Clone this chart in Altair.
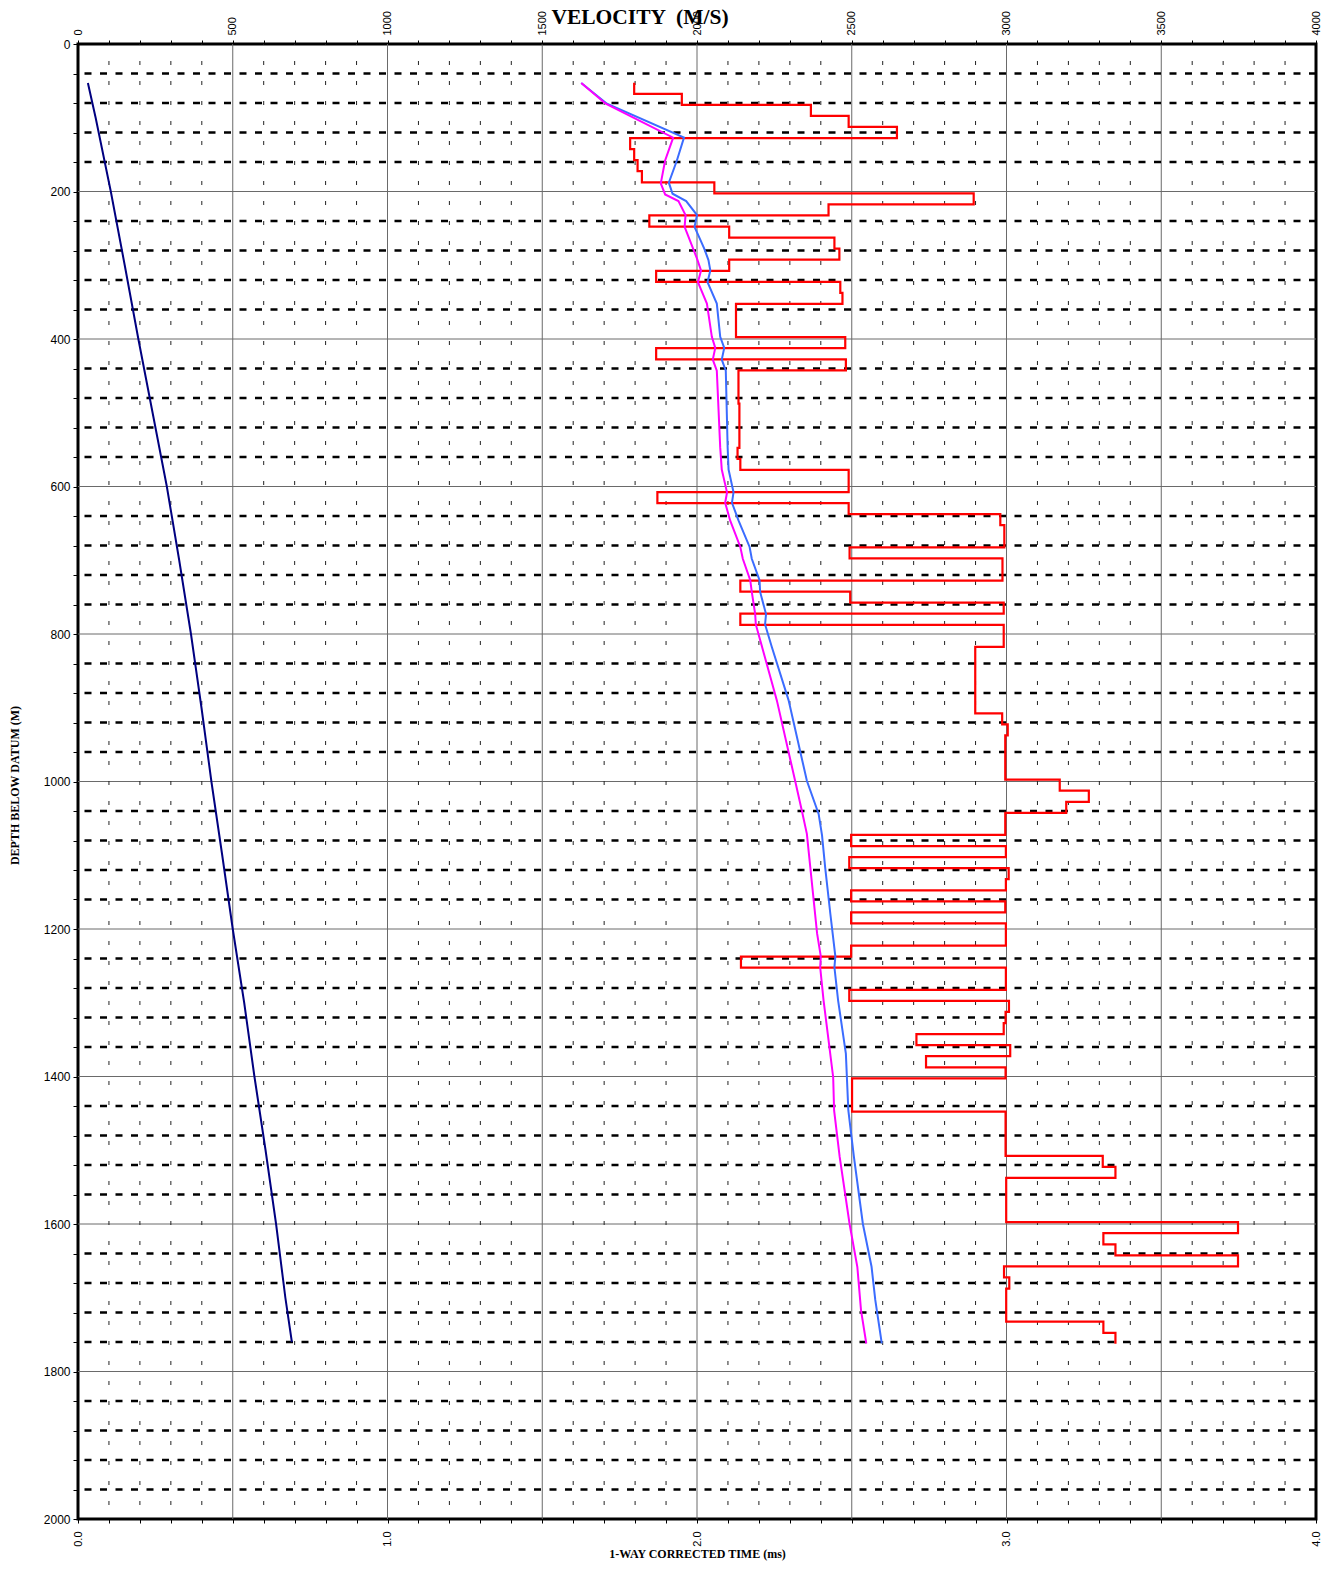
import altair as alt
import pandas as pd

# ---------------- axis / grid values ----------------
VEL_TICKS = list(range(0, 4001, 100))
TIME_TICKS = [round(i * 0.1, 1) for i in range(41)]
DEPTH_TICKS = list(range(0, 2001, 40))
VEL_MAJOR = [500, 1000, 1500, 2000, 2500, 3000, 3500]
DEPTH_MAJOR = [200, 400, 600, 800, 1000, 1200, 1400, 1600, 1800]
VEL_MINOR = [v for v in range(100, 4000, 100) if v % 500]
DEPTH_MINOR = [d for d in range(40, 2000, 40) if d % 200]

# ---------------- interval velocity (red, stepped) ----------------
RED_TOP = [52.5, 67.5, 82.5, 97.5, 112.5, 127.5, 142.5, 157.5, 172.5, 187.5,
           202.5, 217.5, 232.5, 247.5, 262.5, 277.5, 292.5, 307.5, 322.5, 337.5,
           352.5, 397.5, 412.5, 427.5, 442.5, 487.5, 547.5, 562.5, 577.5, 607.5,
           622.5, 637.5, 652.5, 682.5, 697.5, 727.5, 742.5, 757.5, 772.5, 787.5,
           817.5, 907.5, 922.5, 937.5, 997.5, 1012.5, 1027.5, 1042.5, 1072.5, 1087.5,
           1102.5, 1117.5, 1132.5, 1147.5, 1162.5, 1177.5, 1192.5, 1222.5, 1237.5, 1252.5,
           1282.5, 1297.5, 1312.5, 1327.5, 1342.5, 1357.5, 1372.5, 1387.5, 1402.5, 1447.5,
           1507.5, 1522.5, 1537.5, 1597.5, 1612.5, 1627.5, 1642.5, 1657.5, 1672.5, 1687.5,
           1732.5, 1747.5]
RED_END = 1762.5
RED_VEL = [1797, 1951, 2368, 2490, 2646, 1784, 1797, 1808, 1822, 2056,
           2894, 2425, 1846, 2104, 2444, 2460, 2104, 1868, 2463, 2470,
           2126, 2479, 1868, 2481, 2134, 2137, 2131, 2140, 2490, 1872,
           2490, 2980, 2993, 2493, 2987, 2140, 2495, 2991, 2140, 2991,
           2899, 2986, 3004, 2996, 3172, 3266, 3193, 2996, 2498, 2998,
           2492, 3007, 2998, 2498, 2996, 2498, 2998, 2498, 2142, 2998,
           2492, 3008, 2997, 2991, 2709, 3012, 2740, 2997, 2501, 2997,
           3311, 3352, 2999, 3748, 3313, 3352, 3748, 2992, 3009, 2999,
           3313, 3352]

# ---------------- RMS velocity (blue) ----------------
BLUE_D = [52.8, 81, 127, 158, 188, 203, 213, 232, 248, 263,
          277, 293, 307, 323, 352, 397, 412, 428, 443, 547,
          577, 608, 622, 646, 682, 698, 727, 743, 773, 787,
          818, 890, 999, 1044, 1073, 1116, 1180, 1237, 1252, 1297,
          1369, 1446, 1509, 1600, 1658, 1703, 1762]
BLUE_V = [1626, 1709, 1958, 1935, 1909, 1921, 1965, 2000, 1992, 2008,
          2023, 2037, 2043, 2034, 2064, 2075, 2088, 2080, 2093, 2099,
          2102, 2118, 2113, 2134, 2170, 2177, 2202, 2204, 2223, 2220,
          2242, 2296, 2355, 2393, 2404, 2414, 2431, 2447, 2444, 2456,
          2481, 2489, 2507, 2536, 2564, 2576, 2597]

# ---------------- average velocity (magenta) ----------------
MAG_D = [52.8, 81, 127, 158, 189, 204, 213, 232, 248, 291,
         307, 323, 352, 397, 412, 428, 443, 547, 577, 608,
         622, 646, 682, 698, 727, 743, 773, 787, 808, 890,
         999, 1040, 1071, 1116, 1206, 1237, 1252, 1297, 1401, 1446,
         1509, 1600, 1658, 1717, 1762]
MAG_V = [1626, 1705, 1923, 1897, 1883, 1897, 1940, 1963, 1960, 2000,
         2013, 2003, 2032, 2048, 2059, 2051, 2064, 2075, 2080, 2097,
         2091, 2107, 2140, 2148, 2172, 2177, 2188, 2190, 2204, 2258,
         2317, 2339, 2355, 2366, 2388, 2400, 2398, 2409, 2440, 2443,
         2461, 2493, 2518, 2530, 2547]

# ---------------- time-depth (navy) ----------------
NAVY_D = [53, 100, 200, 300, 400, 500, 600, 700, 800, 900,
          1000, 1100, 1200, 1300, 1400, 1500, 1600, 1700, 1760]
NAVY_T = [0.032, 0.057, 0.106, 0.151, 0.195, 0.241, 0.287, 0.327, 0.365, 0.399,
          0.431, 0.466, 0.500, 0.537, 0.570, 0.606, 0.640, 0.670, 0.691]

W, H = 1238, 1475

# ---------------- data frames ----------------
red_rows = []
for i, top in enumerate(RED_TOP):
    bot = RED_TOP[i + 1] if i + 1 < len(RED_TOP) else RED_END
    red_rows.append({"v": RED_VEL[i], "d": top})
    red_rows.append({"v": RED_VEL[i], "d": bot})
red_df = pd.DataFrame(red_rows)
red_df["i"] = range(len(red_df))

blue_df = pd.DataFrame({"v": BLUE_V, "d": BLUE_D})
blue_df["i"] = range(len(blue_df))
mag_df = pd.DataFrame({"v": MAG_V, "d": MAG_D})
mag_df["i"] = range(len(mag_df))
navy_df = pd.DataFrame({"t": NAVY_T, "d": NAVY_D})
navy_df["i"] = range(len(navy_df))

# ---------------- shared encodings ----------------
y_axis = alt.Axis(
    values=DEPTH_TICKS,
    labelExpr="datum.value % 200 == 0 ? datum.label : ''",
    format="d",
    labelFont="Liberation Sans", labelFontSize=12, labelColor="black",
    labelOverlap=False, labelFlush=False, labelPadding=3,
    tickSize=5, tickColor="black", tickWidth=1,
    domain=False, grid=False,
    title="DEPTH BELOW DATUM (M)",
    titleFont="Liberation Serif", titleFontSize=12, titleFontWeight="bold",
    titleColor="black", titleAngle=270, titleX=-64, titleY=741,
    titleAlign="center", titleBaseline="middle",
)
Y = alt.Y("d:Q", scale=alt.Scale(domain=[0, 2000], reverse=True, nice=False, zero=False),
          axis=y_axis)

x_axis = alt.Axis(
    orient="top", values=VEL_TICKS,
    labelExpr="datum.value % 500 == 0 ? datum.label : ''",
    format="d", labelAngle=270,
    labelFont="Liberation Sans", labelFontSize=11, labelColor="black",
    labelOverlap=False, labelFlush=False, labelPadding=5,
    tickSize=4, tickColor="black", tickWidth=1,
    domain=False, grid=False, title=None, zindex=1,
)
VSCALE = alt.Scale(domain=[0, 4000], nice=False, zero=False)
X = alt.X("v:Q", scale=VSCALE, axis=x_axis)

# ---------------- grid layers ----------------
vmaj = alt.Chart(pd.DataFrame({"v": VEL_MAJOR})).mark_rule(
    color="#6a6a6a", strokeWidth=1).encode(x=X)
dmaj = alt.Chart(pd.DataFrame({"d": DEPTH_MAJOR})).mark_rule(
    color="#6a6a6a", strokeWidth=1).encode(y=Y)
vmin = alt.Chart(pd.DataFrame({"v": VEL_MINOR})).mark_rule(
    color="#222222", strokeWidth=1, strokeDash=[4, 16], strokeDashOffset=3).encode(x=X)
dmin = alt.Chart(pd.DataFrame({"d": DEPTH_MINOR})).mark_rule(
    color="black", strokeWidth=2.6, strokeDash=[7, 8.5]).encode(y=Y)

red = alt.Chart(red_df).mark_line(color="#ff0000", strokeWidth=2.2).encode(
    x=X, y=Y, order="i:Q")
blue = alt.Chart(blue_df).mark_line(color="#3b6cff", strokeWidth=2).encode(
    x=X, y=Y, order="i:Q")
mag = alt.Chart(mag_df).mark_line(color="#ff00ff", strokeWidth=2).encode(
    x=X, y=Y, order="i:Q")

title = alt.Chart(pd.DataFrame({"s": ["VELOCITY \u00a0(M/S)"]})).mark_text(
    font="Liberation Serif", fontSize=21.5, fontWeight="bold", color="black",
    align="center", baseline="alphabetic").encode(
    text="s:N", x=alt.value(562), y=alt.value(-20))

vel = alt.layer(vmaj, dmaj, vmin, dmin, red, blue, mag, title)

t_axis = alt.Axis(
    orient="bottom", values=TIME_TICKS,
    labelExpr="datum.value == round(datum.value) ? format(datum.value, '.1f') : ''",
    labelAngle=270,
    labelFont="Liberation Sans", labelFontSize=11, labelColor="black",
    labelOverlap=False, labelFlush=False, labelPadding=8,
    tickSize=4, tickColor="black", tickWidth=1,
    domain=False, grid=False,
    title="1-WAY CORRECTED TIME (ms)",
    titleFont="Liberation Serif", titleFontSize=12, titleFontWeight="bold",
    titleColor="black", titleX=619, titleY=34, titleAlign="center",
    titleBaseline="middle",
)
navy = alt.Chart(navy_df).mark_line(color="#000080", strokeWidth=2).encode(
    x=alt.X("t:Q", scale=alt.Scale(domain=[0, 4], nice=False, zero=False), axis=t_axis),
    y=Y, order="i:Q")

chart = alt.layer(vel, navy).resolve_scale(x="independent").resolve_axis(x="independent").properties(
    width=W, height=H,
    autosize=alt.AutoSizeParams(type="none"),
    padding={"left": 70, "top": 36, "right": 5, "bottom": 43},
    background="white",
).configure_view(stroke="black", strokeWidth=3)

chart.save("out.html", embed_options={"renderer": "svg", "actions": False})
